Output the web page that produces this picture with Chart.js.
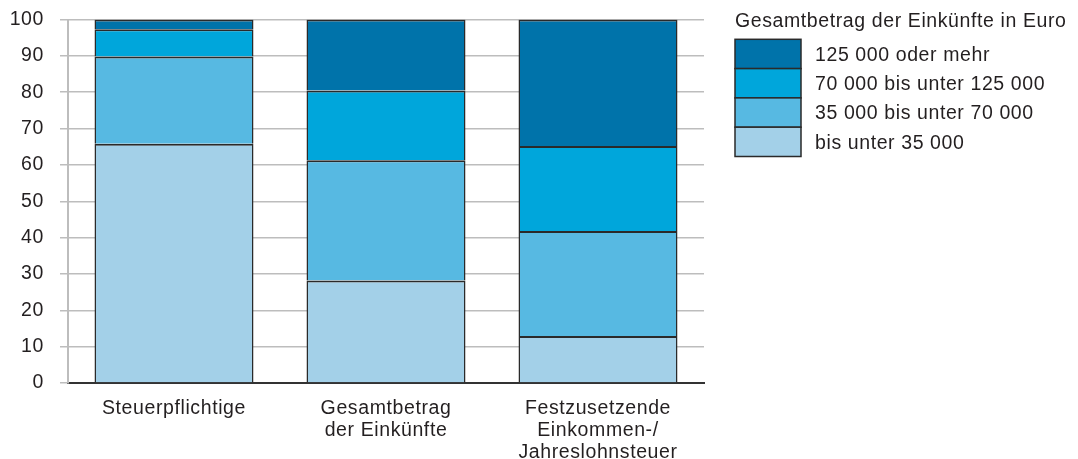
<!DOCTYPE html>
<html>
<head>
<meta charset="utf-8">
<script src="https://cdn.jsdelivr.net/npm/chart.js@4/dist/chart.umd.min.js"></script>
<style>
  html, body { margin: 0; padding: 0; background: #fff; }
  #wrap { width: 1078px; height: 459px; }
</style>
</head>
<body>
<div id="wrap"><canvas id="c" width="1078" height="459"></canvas></div>
<script>
const categories = [
  ["Steuerpflichtige"],
  ["Gesamtbetrag", "der Einkünfte"],
  ["Festzusetzende", "Einkommen-/", "Jahreslohnsteuer"]
];
const seriesNames = [
  "bis unter 35 000",
  "35 000 bis unter 70 000",
  "70 000 bis unter 125 000",
  "125 000 oder mehr"
];
const under35 = [65.8, 28.2, 12.9];
const from35to70 = [24.0, 33.1, 28.9];
const from70to125 = [7.5, 19.2, 23.4];
const over125 = [2.7, 19.5, 34.8];
const yTicks = [0, 10, 20, 30, 40, 50, 60, 70, 80, 90, 100];
const legendTitle = "Gesamtbetrag der Einkünfte in Euro";
const colors = ["#A3D0E8", "#57B9E2", "#00A6DB", "#0073AA"];

const FONT = "'Liberation Sans', Arial, Helvetica, sans-serif";
const FSIZE = 19.5;
const TEXT = "#231f20";
const SPACING = "0.6px";

const seriesValues = [under35, from35to70, from70to125, over125];

const spacingPlugin = {
  id: 'spacing',
  beforeLayout(chart) { chart.ctx.letterSpacing = SPACING; },
  beforeDraw(chart) { chart.ctx.letterSpacing = SPACING; }
};

const legendPlugin = {
  id: 'stackLegend',
  afterDraw(chart) {
    const ctx = chart.ctx;
    ctx.save();
    ctx.letterSpacing = SPACING;
    ctx.font = FSIZE + "px " + FONT;
    ctx.fillStyle = TEXT;
    ctx.textAlign = "left";
    ctx.textBaseline = "alphabetic";
    ctx.fillText(legendTitle, 735, 27);
    const x = 735, w = 66, h = 29.3, top0 = 39.3;
    const n = chart.data.datasets.length;
    for (let i = 0; i < n; i++) {
      const ds = chart.data.datasets[n - 1 - i];
      const top = top0 + i * h;
      ctx.fillStyle = ds.backgroundColor;
      ctx.fillRect(x, top, w, h);
      ctx.lineWidth = 1.5;
      ctx.strokeStyle = "#2a2a2a";
      ctx.strokeRect(x, top, w, h);
      ctx.fillStyle = TEXT;
      ctx.textBaseline = "middle";
      ctx.fillText(ds.label, 815, top + h / 2 + 1.5);
    }
    ctx.restore();
  }
};

new Chart(document.getElementById('c'), {
  type: 'bar',
  data: {
    labels: categories,
    datasets: seriesValues.map((vals, i) => ({
      label: seriesNames[i],
      data: vals,
      backgroundColor: colors[i],
      borderColor: "#2a2a2a",
      borderWidth: { top: 2, bottom: 0, left: 1.5, right: 1.5 },
      borderSkipped: false,
      barPercentage: 0.75,
      categoryPercentage: 1.0
    }))
  },
  options: {
    responsive: false,
    animation: false,
    layout: { padding: { top: 19.5, right: 374, left: 0, bottom: 0 } },
    plugins: { legend: { display: false }, tooltip: { enabled: false } },
    scales: {
      x: {
        stacked: true,
        grid: { display: false, drawTicks: false },
        border: { display: true, color: "#333", width: 2 },
        ticks: { color: TEXT, font: { family: FONT, size: FSIZE, lineHeight: 1.13 }, padding: 15, maxRotation: 0, autoSkip: false },
        afterFit(scale) { scale.height = 76; scale.paddingLeft = 0; scale.paddingRight = 0; }
      },
      y: {
        stacked: true,
        min: 0, max: 100,
        afterBuildTicks(scale) { scale.ticks = yTicks.map(v => ({ value: v })); },
        grid: { color: "#bdbdbd", lineWidth: 1.5, drawTicks: true, tickLength: 8 },
        border: { display: true, color: "#bdbdbd", width: 2 },
        ticks: { color: TEXT, font: { family: FONT, size: FSIZE }, padding: 16 },
        afterFit(scale) { scale.width = 68; scale.paddingTop = 0; scale.paddingBottom = 0; }
      }
    }
  },
  plugins: [spacingPlugin, legendPlugin]
});
</script>
</body>
</html>
